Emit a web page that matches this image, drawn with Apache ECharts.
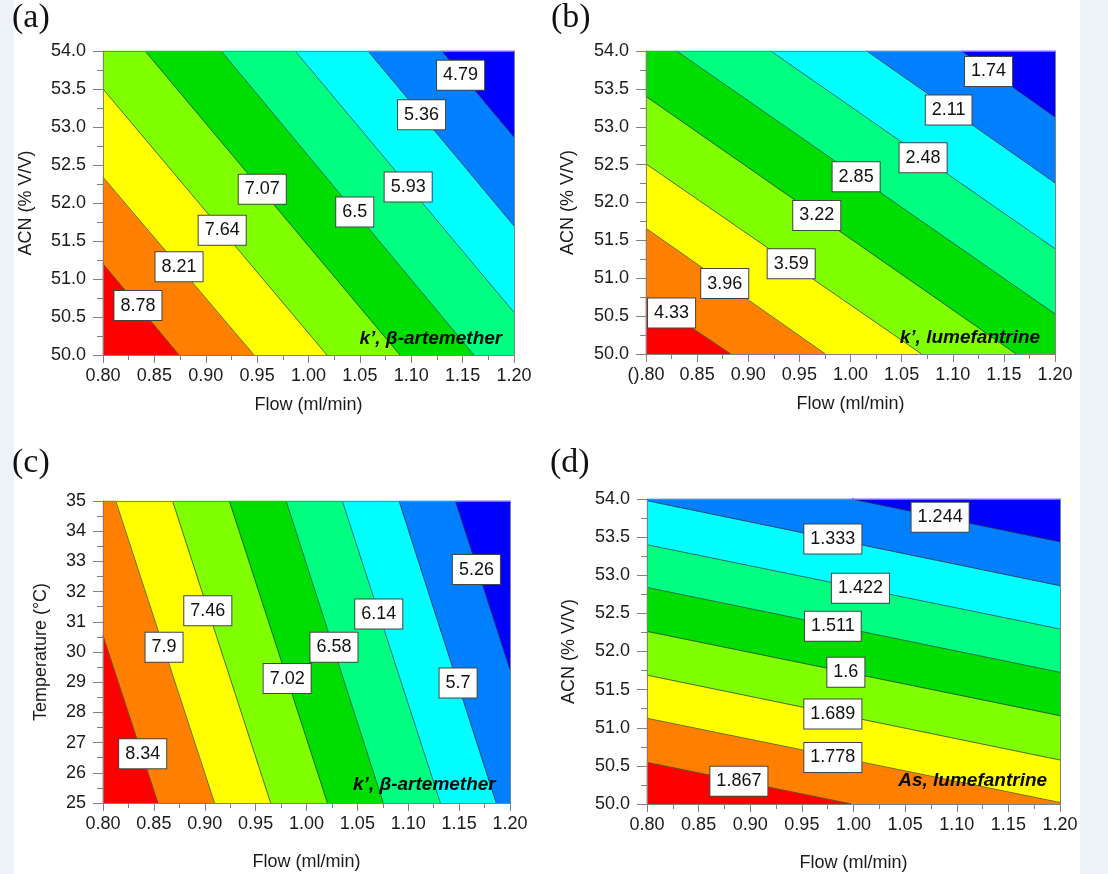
<!DOCTYPE html>
<html><head><meta charset="utf-8">
<script src="https://cdn.jsdelivr.net/npm/echarts@6/dist/echarts.min.js"></script>
<style>html,body{margin:0;padding:0;background:#fff}#c{width:1108px;height:874px}</style>
</head><body><div id="c"></div>
<script>
// Band colours, from highest value (bottom-left) to lowest (top-right)
const bandColors = ['#ff0000','#ff8000','#ffff00','#80ff00','#00dd00','#00ff80','#00ffff','#0080ff','#0000ff'];

// Panel (a): k', beta-artemether vs Flow / ACN
const levelsA = [8.78, 8.21, 7.64, 7.07, 6.5, 5.93, 5.36, 4.79];
const lineStartA = [[0.8,51.20],[0.8,52.34],[0.8,53.50],[0.841,54],[0.915,54],[0.987,54],[1.058,54],[1.130,54]];
const lineEndA = [[0.874,50],[0.947,50],[1.018,50],[1.089,50],[1.161,50],[1.2,50.56],[1.2,51.70],[1.2,52.87]];
const labelPosA = [[0.834,50.65],[0.874,51.16],[0.916,51.64],[0.955,52.18],[1.045,51.88],[1.097,52.21],[1.110,53.16],[1.148,53.68]];

// Panel (b): k', lumefantrine vs Flow / ACN
const levelsB = [4.33, 3.96, 3.59, 3.22, 2.85, 2.48, 2.11, 1.74];
const lineStartB = [[0.8,50.75],[0.8,51.66],[0.8,52.51],[0.8,53.40],[0.830,54],[0.922,54],[1.016,54],[1.109,54]];
const lineEndB = [[0.883,50],[0.9755,50],[1.0696,50],[1.162,50],[1.2,50.53],[1.2,51.39],[1.2,52.26],[1.2,53.13]];
const labelPosB = [[0.825,50.54],[0.877,50.93],[0.942,51.19],[0.967,51.83],[1.0055,52.34],[1.071,52.59],[1.096,53.22],[1.135,53.73]];

// Panel (c): k', beta-artemether vs Flow / Temperature
const levelsC = [8.34, 7.9, 7.46, 7.02, 6.58, 6.14, 5.7, 5.26];
const lineStartC = [[0.8,30.54],[0.8125,35],[0.8684,35],[0.9242,35],[0.980,35],[1.0352,35],[1.091,35],[1.1465,35]];
const lineEndC = [[0.854,25],[0.9096,25],[0.9648,25],[1.0206,25],[1.0755,25],[1.1316,25],[1.1865,25],[1.2,29.43]];
const labelPosC = [[0.839,26.63],[0.860,30.16],[0.903,31.37],[0.981,29.12],[1.027,30.16],[1.071,31.26],[1.149,28.97],[1.167,32.73]];

// Panel (d): As, lumefantrine vs Flow / ACN
const levelsD = [1.867, 1.778, 1.689, 1.6, 1.511, 1.422, 1.333, 1.244];
const lineStartD = [[0.8,50.546],[0.8,51.124],[0.8,51.69],[0.8,52.264],[0.8,52.84],[0.8,53.40],[0.8,53.978],[0.9986,54]];
const lineEndD = [[0.998,50],[1.2,50.02],[1.2,50.577],[1.2,51.158],[1.2,51.727],[1.2,52.295],[1.2,52.863],[1.2,53.44]];
const labelPosD = [[0.889,50.30],[0.980,50.61],[0.980,51.18],[0.9926,51.727],[0.980,52.33],[1.0067,52.83],[0.980,53.475],[1.0839,53.76]];

const flowTicks = [0.8, 1.2, 0.05];
const acnTicks = [50, 54, 0.5];
const tempTicks = [25, 35, 1];

const sans = "'Liberation Sans', Arial, sans-serif";
const serif = "'Liberation Serif', 'Times New Roman', serif";
const axisGray = '#808080';

const panels = [
  {tag:'(a)', levels:levelsA, start:lineStartA, end:lineEndA, labels:labelPosA, xr:flowTicks, yr:acnTicks, yName:'ACN (% V/V)',
   grid:{left:103, top:51, width:411, height:304}, title:{left:12, top:1}, xGap:41, yGap:68,
   note:{text:'k\u2019, \u03b2-artemether', pos:[1.189,50.22]}, yFmt:v=>v.toFixed(1), xFmt:v=>v.toFixed(2)},
  {tag:'(b)', levels:levelsB, start:lineStartB, end:lineEndB, labels:labelPosB, xr:flowTicks, yr:acnTicks, yName:'ACN (% V/V)',
   grid:{left:646, top:51, width:409, height:303}, title:{left:551, top:1}, xGap:41, yGap:69,
   note:{text:'k\u2019, lumefantrine', pos:[1.186,50.21]}, yFmt:v=>v.toFixed(1), xFmt:v=>(Math.abs(v-0.8)<1e-9?'().80':v.toFixed(2))},
  {tag:'(c)', levels:levelsC, start:lineStartC, end:lineEndC, labels:labelPosC, xr:flowTicks, yr:tempTicks, yName:'Temperature (\u00b0C)',
   grid:{left:103, top:501, width:407, height:302}, title:{left:12, top:446}, xGap:50, yGap:53,
   note:{text:'k\u2019, \u03b2-artemether', pos:[1.1865,25.61]}, yFmt:v=>String(Math.round(v)), xFmt:v=>v.toFixed(2)},
  {tag:'(d)', levels:levelsD, start:lineStartD, end:lineEndD, labels:labelPosD, xr:flowTicks, yr:acnTicks, yName:'ACN (% V/V)',
   grid:{left:647, top:499, width:413, height:305}, title:{left:550, top:446}, xGap:50, yGap:69,
   note:{text:'As, lumefantrine', pos:[1.188,50.30]}, yFmt:v=>v.toFixed(1), xFmt:v=>v.toFixed(2)}
];

function side(p, a, b) { return (b[0]-a[0])*(p[1]-a[1]) - (b[1]-a[1])*(p[0]-a[0]); }
function clipHalf(poly, a, b, keep) {
  const out = [];
  for (let i = 0; i < poly.length; i++) {
    const p = poly[i], q = poly[(i+1) % poly.length];
    const fp = keep * side(p, a, b), fq = keep * side(q, a, b);
    if (fp >= 0) out.push(p);
    if ((fp >= 0) !== (fq >= 0)) {
      const t = fp / (fp - fq);
      out.push([p[0] + t*(q[0]-p[0]), p[1] + t*(q[1]-p[1])]);
    }
  }
  return out;
}
function bandPolygon(P, k) {
  const x0 = P.xr[0], x1 = P.xr[1], y0 = P.yr[0], y1 = P.yr[1];
  let poly = [[x0,y0],[x1,y0],[x1,y1],[x0,y1]];
  const hi = [x0, y0];
  const n = P.levels.length;
  if (k > 0) { const s = Math.sign(side(hi, P.start[k-1], P.end[k-1])); poly = clipHalf(poly, P.start[k-1], P.end[k-1], -s); }
  if (k < n) { const s = Math.sign(side(hi, P.start[k], P.end[k])); poly = clipHalf(poly, P.start[k], P.end[k], s); }
  return poly;
}

const grids = [], xAxes = [], yAxes = [], series = [], titles = [];
panels.forEach((P, pi) => {
  grids.push(Object.assign({containLabel:false}, P.grid));
  titles.push({text:P.tag, left:P.title.left, top:P.title.top, padding:0,
    textStyle:{fontFamily:serif, fontSize:34, fontWeight:'normal', color:'#111'}});
  const tickStyle = {color:axisGray, width:1};
  xAxes.push({gridIndex:pi, type:'value', position:'bottom', min:P.xr[0], max:P.xr[1], interval:P.xr[2], z:10,
    name:'Flow (ml/min)', nameLocation:'middle', nameGap:P.xGap,
    nameTextStyle:{fontFamily:sans, fontSize:18, color:'#1a1a1a'},
    axisLine:{show:true, onZero:false, lineStyle:tickStyle},
    axisTick:{show:true, length:8, lineStyle:tickStyle},
    minorTick:{show:true, splitNumber:2, length:5, lineStyle:tickStyle},
    axisLabel:{fontFamily:sans, fontSize:18, color:'#1a1a1a', margin:12, formatter:P.xFmt},
    splitLine:{show:false}, minorSplitLine:{show:false}});
  xAxes.push({gridIndex:pi, type:'value', position:'top', min:P.xr[0], max:P.xr[1], interval:P.xr[2], z:10,
    axisLine:{show:true, onZero:false, lineStyle:tickStyle}, axisTick:{show:false}, axisLabel:{show:false}, splitLine:{show:false}});
  yAxes.push({gridIndex:pi, type:'value', position:'left', min:P.yr[0], max:P.yr[1], interval:P.yr[2], z:10,
    name:P.yName, nameLocation:'middle', nameGap:P.yGap,
    nameTextStyle:{fontFamily:sans, fontSize:18, color:'#1a1a1a'},
    axisLine:{show:true, onZero:false, lineStyle:tickStyle},
    axisTick:{show:true, length:10, lineStyle:tickStyle},
    minorTick:{show:true, splitNumber:2, length:6, lineStyle:tickStyle},
    axisLabel:{fontFamily:sans, fontSize:18, color:'#1a1a1a', margin:17, formatter:P.yFmt},
    splitLine:{show:false}, minorSplitLine:{show:false}});
  yAxes.push({gridIndex:pi, type:'value', position:'right', min:P.yr[0], max:P.yr[1], interval:P.yr[2], z:10,
    axisLine:{show:true, onZero:false, lineStyle:tickStyle}, axisTick:{show:false}, axisLabel:{show:false}, splitLine:{show:false}});

  const xi = 2*pi, yi = 2*pi;
  series.push({type:'custom', xAxisIndex:xi, yAxisIndex:yi, silent:true, z:2, animation:false,
    data: bandColors.map((c,k)=>[P.xr[0], P.yr[0], k]),
    renderItem:(params, api)=>{
      const k = api.value(2);
      const pts = bandPolygon(P, k).map(p=>api.coord(p));
      return {type:'polygon', shape:{points:pts}, style:{fill:bandColors[k], stroke:bandColors[k], lineWidth:0.6}};
    }});
  series.push({type:'custom', xAxisIndex:xi, yAxisIndex:yi, silent:true, z:3, animation:false,
    data: P.levels.map((l,i)=>[P.xr[0], P.yr[0], i]),
    renderItem:(params, api)=>{
      const i = api.value(2);
      const a = api.coord(P.start[i]), b = api.coord(P.end[i]);
      return {type:'line', shape:{x1:a[0], y1:a[1], x2:b[0], y2:b[1]}, style:{stroke:'#2a2a2a', lineWidth:0.8, opacity:0.85}};
    }});
  series.push({type:'scatter', xAxisIndex:xi, yAxisIndex:yi, silent:true, z:5, animation:false,
    symbolSize:1, itemStyle:{color:'rgba(0,0,0,0)', opacity:1}, emphasis:{disabled:true},
    data: P.labels.map((p,i)=>({value:p, name:String(P.levels[i])})),
    label:{show:true, position:'inside', formatter:'{b}', fontFamily:sans, fontSize:18, lineHeight:18, color:'#111',
      backgroundColor:'#ffffff', borderColor:'#444', borderWidth:1, padding:[6,6,5,6], opacity:1}});
  series.push({type:'scatter', xAxisIndex:xi, yAxisIndex:yi, silent:true, z:5, animation:false,
    symbolSize:1, itemStyle:{color:'rgba(0,0,0,0)', opacity:1}, emphasis:{disabled:true},
    data:[{value:P.note.pos, name:P.note.text}],
    label:{show:true, position:'left', distance:0, formatter:'{b}', fontFamily:sans, fontSize:19,
      fontStyle:'italic', fontWeight:'bold', color:'#0a0a0a', opacity:1}});
});

const chart = echarts.init(document.getElementById('c'), null, {renderer:'canvas'});
chart.setOption({
  animation:false,
  backgroundColor:'#fff',
  title:titles,
  grid:grids, xAxis:xAxes, yAxis:yAxes, series:series,
  graphic:[
    {type:'rect', left:0, top:0, shape:{width:14, height:874}, style:{fill:'#edf1f8'}, silent:true},
    {type:'rect', left:1080, top:0, shape:{width:28, height:874}, style:{fill:'#edf1f8'}, silent:true}
  ]
});
</script>
</body></html>
